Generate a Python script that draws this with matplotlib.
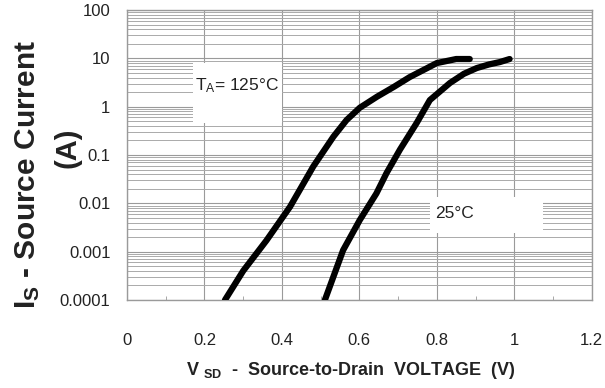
import matplotlib
matplotlib.use("Agg")
import matplotlib.pyplot as plt
from matplotlib.patches import Rectangle
from matplotlib.ticker import FixedLocator, MultipleLocator, LogLocator, NullFormatter

plt.rcParams["font.family"] = ["Liberation Sans", "DejaVu Sans"]
plt.rcParams["mathtext.fontset"] = "custom"
plt.rcParams["mathtext.rm"] = "Liberation Sans"
plt.rcParams["mathtext.it"] = "Liberation Sans"
plt.rcParams["mathtext.bf"] = "Liberation Sans:bold"

# Data (V_SD in volts, I_S in amps)
v_125 = [0.253, 0.300, 0.360, 0.421, 0.481, 0.533, 0.567, 0.601, 0.645, 0.690, 0.730, 0.770, 0.800, 0.850, 0.885]
i_125 = [1.0e-4, 4.0e-4, 1.7e-3, 8.5e-3, 0.058, 0.24, 0.53, 0.95, 1.6, 2.6, 4.1, 6.0, 8.0, 9.7, 9.7]

v_25 = [0.511, 0.558, 0.601, 0.644, 0.670, 0.705, 0.748, 0.782, 0.834, 0.870, 0.903, 0.935, 0.963, 0.988]
i_25 = [1.0e-4, 1.07e-3, 4.5e-3, 0.016, 0.042, 0.13, 0.46, 1.37, 3.1, 4.8, 6.3, 7.5, 8.4, 9.7]

x_ticks = [0, 0.2, 0.4, 0.6, 0.8, 1.0, 1.2]
x_tick_labels = ["0", "0.2", "0.4", "0.6", "0.8", "1", "1.2"]
y_ticks = [1e-4, 1e-3, 1e-2, 1e-1, 1, 10, 100]
y_tick_labels = ["0.0001", "0.001", "0.01", "0.1", "1", "10", "100"]

fig = plt.figure(figsize=(6.05, 3.88), dpi=100)
ax = fig.add_axes([0.21, 0.227, 0.768, 0.747])

grid_col = "#9a9a9a"
txt_col = "#222222"
ax.set_yscale("log")
ax.set_xlim(0, 1.2)
ax.set_ylim(1e-4, 100)
ax.set_axisbelow(True)

# gridlines
ax.xaxis.set_major_locator(FixedLocator(x_ticks))
ax.xaxis.set_minor_locator(MultipleLocator(0.1))
ax.yaxis.set_major_locator(FixedLocator(y_ticks))
ax.yaxis.set_minor_locator(LogLocator(base=10, subs=range(2, 10)))
ax.yaxis.set_minor_formatter(NullFormatter())
ax.grid(True, which="major", axis="both", color=grid_col, lw=0.8)
ax.grid(True, which="minor", axis="y", color="#aaaaaa", lw=0.7)

ax.set_xticklabels(x_tick_labels, fontsize=12)
ax.set_yticklabels(y_tick_labels, fontsize=12)
ax.tick_params(axis="x", which="major", length=0, pad=24, colors=txt_col)
ax.tick_params(axis="y", which="major", length=0, pad=12, colors=txt_col)
ax.tick_params(axis="x", which="minor", direction="in", length=3, color=grid_col)
ax.tick_params(axis="y", which="minor", length=0)

for s in ax.spines.values():
    s.set_color(grid_col)
    s.set_linewidth(1.0)

# white label boxes over the grid
ax.add_patch(Rectangle((0.142, 0.610), 0.191, 0.207, transform=ax.transAxes,
                       facecolor="white", edgecolor="none", zorder=1))
ax.add_patch(Rectangle((0.652, 0.231), 0.243, 0.124, transform=ax.transAxes,
                       facecolor="white", edgecolor="none", zorder=1))

ax.plot(v_125, i_125, color="black", lw=4.5, solid_capstyle="round", zorder=3)
ax.plot(v_25, i_25, color="black", lw=4.5, solid_capstyle="round", zorder=3)

ax.text(0.237, 0.741, r"T$_A$= 125°C", transform=ax.transAxes, fontsize=12.5,
        ha="center", va="center", color=txt_col, zorder=4)
ax.text(0.705, 0.297, "25°C", transform=ax.transAxes, fontsize=12.5,
        ha="center", va="center", color=txt_col, zorder=4)

fig.text(0.58, 0.046, r"V $_{\mathbf{SD}}$  -  Source-to-Drain  VOLTAGE  (V)",
         ha="center", va="center", fontsize=13, fontweight="bold", color=txt_col)
fig.text(0.045, 0.55, r"I$_\mathbf{S}$ - Source Current", rotation=90,
         ha="center", va="center", fontsize=21.5, fontweight="bold", color=txt_col)
fig.text(0.112, 0.62, "(A)", rotation=90,
         ha="center", va="center", fontsize=21, fontweight="bold", color=txt_col)

fig.savefig("out.png", dpi=100)
